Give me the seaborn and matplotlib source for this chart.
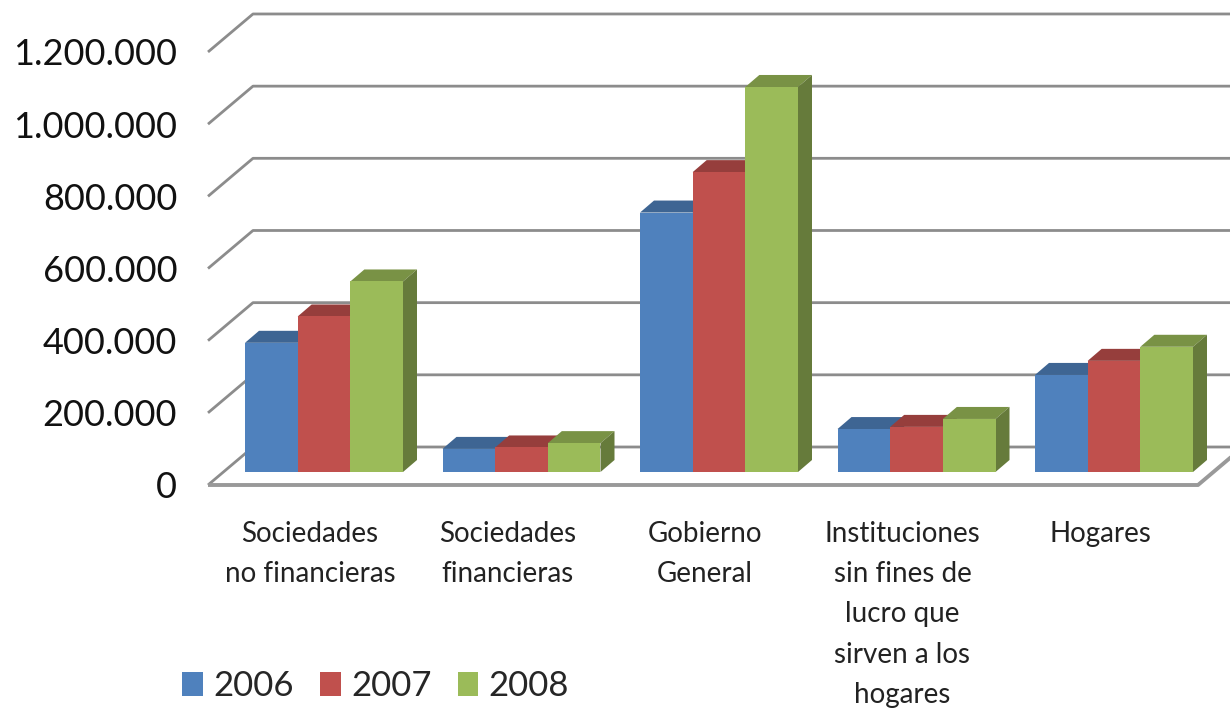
import numpy as np
import pandas as pd
import matplotlib
matplotlib.use("Agg")
import matplotlib.pyplot as plt
from matplotlib.patches import Polygon, Patch
from matplotlib.transforms import ScaledTranslation
import seaborn as sns

# ---- data -------------------------------------------------------------
sectores = [
    "Sociedades\nno financieras",
    "Sociedades\nfinancieras",
    "Gobierno\nGeneral",
    "Instituciones\nsin fines de\nlucro que\nsirven a los\nhogares",
    "Hogares",
]
anios = ["2006", "2007", "2008"]
valores_2006 = [358000, 64000, 719000, 119000, 269000]
valores_2007 = [431000, 68000, 831000, 125000, 308000]
valores_2008 = [528000, 80000, 1067000, 147000, 347000]
ticks_y = [0, 200000, 400000, 600000, 800000, 1000000, 1200000]
colores = ["#4F81BD", "#C0504D", "#9BBB59"]

df = pd.DataFrame({
    "sector": sectores * 3,
    "anio": [a for a in anios for _ in sectores],
    "valor": valores_2006 + valores_2007 + valores_2008,
})

# ---- layout (pixels) ---------------------------------------------------
W, H = 1230, 712
AX_L, AX_R, AX_T, AX_B = 205, 1230, 0, 500
ZERO_PX = 472          # baseline of the bars
PX_PER_200K = 72.17
CAT0_PX, CAT_STEP = 324, 197.5
WALL_DX, WALL_DROP, WALL_RISE = 45, 13, 25   # oblique depth of floor/back wall
BAR_DX, BAR_DY = 14, 12                        # oblique depth of each bar
GRID = "#8c8c8c"

sns.set_theme(style="white")
plt.rcParams["font.family"] = ["Lato", "DejaVu Sans"]

fig = plt.figure(figsize=(W / 100, H / 100), dpi=100)
ax = fig.add_axes([AX_L / W, 1 - AX_B / H, (AX_R - AX_L) / W, (AX_B - AX_T) / H])

sns.barplot(data=df, x="sector", y="valor", hue="anio", order=sectores,
            hue_order=anios, palette=colores, width=0.8, saturation=1,
            errorbar=None, legend=False, ax=ax, linewidth=0)

sx = 1.0 / CAT_STEP
sy = 200000.0 / PX_PER_200K
xpx = lambda px: (px - CAT0_PX) * sx
ax.set_xlim(xpx(AX_L), xpx(AX_R))
ax.set_ylim(-(AX_B - ZERO_PX) * sy, (ZERO_PX - AX_T) * sy)

# back wall gridlines with their oblique run to the front edge
x_front, x_back = xpx(208), xpx(208 + WALL_DX)
for v in ticks_y:
    ax.plot([x_front, x_back, xpx(AX_R + 20)],
            [v - WALL_DROP * sy, v + WALL_RISE * sy, v + WALL_RISE * sy],
            color=GRID, lw=2.0, zorder=1, solid_capstyle="butt")

# floor front edge and its right side
x_corner = xpx(1198)
ax.plot([x_front, x_corner, x_corner + WALL_DX * sx],
        [-WALL_DROP * sy, -WALL_DROP * sy, WALL_RISE * sy],
        color="#999999", lw=2.8, zorder=1, solid_capstyle="butt")


def shade(c, f):
    r, g, b = matplotlib.colors.to_rgb(c)
    return (r * f, g * f, b * f)


# give each bar a top and a right side
ddx, ddy = BAR_DX * sx, BAR_DY * sy
for j, cont in enumerate(ax.containers):
    base = colores[j]
    for bar in cont:
        x0 = bar.get_x()
        x1 = x0 + bar.get_width()
        h = bar.get_height()
        bar.set_zorder(4 + 2 * j)
        top = Polygon([(x0, h), (x1, h), (x1 + ddx, h + ddy), (x0 + ddx, h + ddy)],
                      closed=True, facecolor=shade(base, 0.78), edgecolor="none",
                      zorder=3 + 2 * j)
        side = Polygon([(x1, 0), (x1, h), (x1 + ddx, h + ddy), (x1 + ddx, ddy)],
                       closed=True, facecolor=shade(base, 0.66), edgecolor="none",
                       zorder=3 + 2 * j)
        ax.add_patch(top)
        ax.add_patch(side)

for s in ax.spines.values():
    s.set_visible(False)

# value axis labels sit on the front edge of the floor
ax.set_yticks([v - WALL_DROP * sy for v in ticks_y])
ax.set_yticklabels([f"{v:,}".replace(",", ".") for v in ticks_y])
ax.tick_params(axis="y", length=0, pad=20, labelsize=26, labelcolor="#111111")

ax.set_xticks(range(len(sectores)))
ax.set_xticklabels(sectores, fontsize=20, linespacing=1.68, color="#222222")
ax.tick_params(axis="x", length=0, pad=15)
shift = ScaledTranslation(-14 / 100, 0, fig.dpi_scale_trans)
for lab in ax.get_xticklabels():
    lab.set_transform(lab.get_transform() + shift)
ax.set_xlabel("")
ax.set_ylabel("")

handles = [Patch(facecolor=c, edgecolor="none") for c in colores]
fig.legend(handles, anios, loc="center left",
           bbox_to_anchor=(182 / W, 1 - 686 / H), ncol=3, frameon=False,
           fontsize=25, handlelength=0.6, handleheight=0.7, handletextpad=0.3,
           columnspacing=0.75, borderpad=0, borderaxespad=0)

fig.savefig("out.png", dpi=100)
